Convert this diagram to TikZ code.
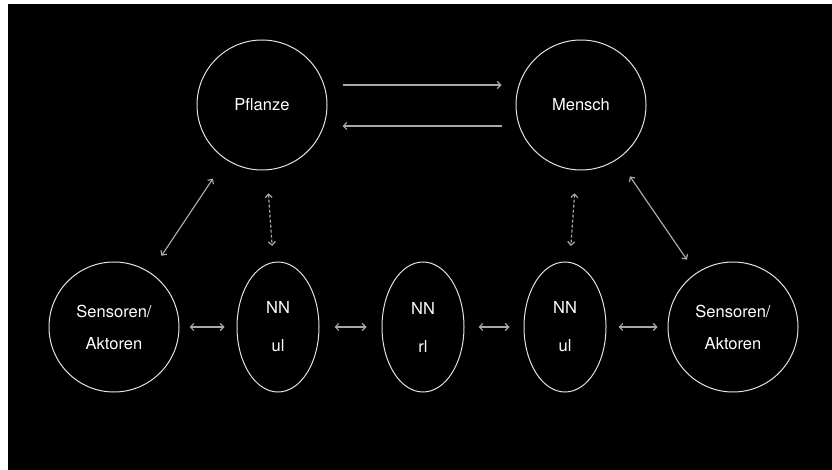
\documentclass[tikz,border=0pt]{standalone}
\usepackage{fontspec}
\setmainfont{TeX Gyre Heros}
\usetikzlibrary{shapes.geometric,arrows.meta}
\definecolor{ringcol}{HTML}{E2E2E2}
\definecolor{arrcol}{HTML}{A8A8A8}
\tikzset{
  bignode/.style={circle,draw=ringcol,line width=1pt,minimum size=130pt,inner sep=0pt,text=white,align=center,font=\fontsize{16.5}{32}\selectfont},
  nnnode/.style={ellipse,draw=ringcol,line width=1pt,minimum width=82pt,minimum height=130pt,inner sep=0pt,text=white,align=center,font=\fontsize{16.5}{38}\selectfont},
  conn/.style={draw=arrcol,line width=1.2pt,arrows={-Straight Barb[length=3.5pt,width=7pt]}},
  biconn/.style={draw=arrcol,line width=1.2pt,arrows={Straight Barb[length=3.5pt,width=7pt]-Straight Barb[length=3.5pt,width=7pt]}},
  dotconn/.style={biconn,dash pattern=on 3pt off 2pt}
}
\begin{document}
\begin{tikzpicture}[x=1pt,y=-1pt]
\useasboundingbox (0,0) rectangle (832,470);
\fill[white] (0,0) rectangle (832,470);
\fill[black] (8,4) rectangle (832,470);
\node[bignode] (pfl) at (262,105) {Pflanze};
\node[bignode] (men) at (581,105) {Mensch};
\node[bignode] (senl) at (114,327) {Sensoren/\\Aktoren};
\node[nnnode] (nnl) at (278,327) {NN\\ul};
\node[nnnode] (nnm) at (423,327) {NN\\rl};
\node[nnnode] (nnr) at (565,327) {NN\\ul};
\node[bignode] (senr) at (733,327) {Sensoren/\\Aktoren};
% top arrows
\draw[conn] ([xshift=15pt,yshift=20pt]pfl.east) -- ([xshift=-14pt,yshift=20pt]men.west);
\draw[conn] ([xshift=-14pt,yshift=-21pt]men.west) -- ([xshift=15pt,yshift=-21pt]pfl.east);
% diagonals
\draw[biconn,shorten <=20pt,shorten >=23pt] (senl) -- (pfl);
\draw[biconn,shorten <=21pt,shorten >=16pt] (men) -- (senr);
% dashed
\draw[dotconn,shorten <=23pt,shorten >=16pt] (pfl) -- (nnl);
\draw[dotconn,shorten <=23pt,shorten >=16pt] (men) -- (nnr);
% bottom row
\draw[biconn,shorten <=10pt,shorten >=12pt] (senl) -- (nnl);
\draw[biconn,shorten <=15pt,shorten >=15pt] (nnl) -- (nnm);
\draw[biconn,shorten <=14pt,shorten >=14pt] (nnm) -- (nnr);
\draw[biconn,shorten <=12pt,shorten >=10pt] (nnr) -- (senr);
\end{tikzpicture}
\end{document}
